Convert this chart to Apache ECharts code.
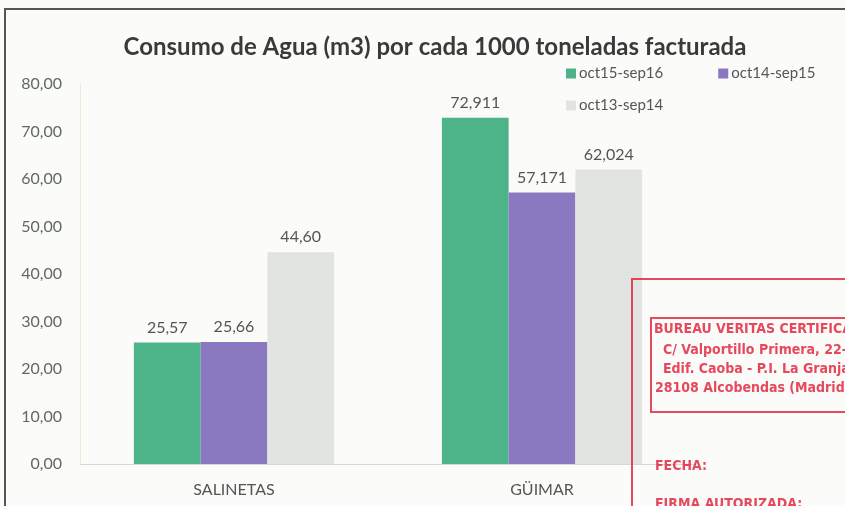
<!DOCTYPE html>
<html>
<head>
<meta charset="utf-8">
<script src="https://cdn.jsdelivr.net/npm/echarts@6/dist/echarts.min.js"></script>
<style>
  html, body { margin: 0; padding: 0; background: #fbfbf9; }
  #chart { width: 845px; height: 506px; }
</style>
</head>
<body>
<div id="chart"></div>
<script>
// categories and series
const categories = ['SALINETAS', 'GÜIMAR'];
const seriesNames = ['oct15-sep16', 'oct14-sep15', 'oct13-sep14'];
const oct15sep16 = [25.57, 72.911];
const oct14sep15 = [25.66, 57.171];
const oct13sep14 = [44.60, 62.024];
// decimals shown in each category's labels
const labelDecimals = [2, 3];
const yTicks = { min: 0, max: 80, interval: 10 };

const colors = ['#4db48a', '#8a78c0', '#e1e4e1'];
const font = 'Lato, "Open Sans", sans-serif';
const stampRed = '#e3344a';

const chart = echarts.init(document.getElementById('chart'));

function fmtComma(v, digits) {
  return v.toFixed(digits).replace('.', ',');
}

function makeSeries(name, data, idx) {
  return {
    name,
    type: 'bar',
    data,
    barGap: 0,
    barCategoryGap: '35%',
    itemStyle: { color: colors[idx] },
    label: {
      show: true,
      position: 'top',
      distance: 7,
      color: '#555',
      fontSize: 16,
      fontFamily: font,
      formatter: (p) => fmtComma(p.value, labelDecimals[p.dataIndex]),
    },
  };
}

// rough copy of the red certification stamp over the scan
const stampText = (text, x, y, size) => ({
  type: 'text',
  x,
  y,
  style: {
    text,
    fill: stampRed,
    font: `bold ${size}px "Liberation Sans Narrow", "DejaVu Sans Condensed", sans-serif`,
    opacity: 0.9,
  },
  z: 20,
});

const option = {
  backgroundColor: '#fbfbf9',
  animation: false,
  textStyle: { fontFamily: font },
  title: {
    text: 'Consumo de Agua (m3) por cada 1000 toneladas facturada',
    left: 430,
    textAlign: 'center',
    top: 30,
    textStyle: { fontSize: 24, fontWeight: 'bold', color: '#3a3a3a', fontFamily: font },
  },
  legend: [
    {
      data: seriesNames.slice(0, 2),
      left: 561,
      top: 61,
      itemGap: 55,
      itemWidth: 10,
      itemHeight: 10,
      icon: 'rect',
      textStyle: { fontSize: 15, color: '#555', fontFamily: font, padding: [0, 0, 0, -2] },
    },
    {
      data: seriesNames.slice(2),
      left: 561,
      top: 93,
      itemWidth: 10,
      itemHeight: 10,
      icon: 'rect',
      textStyle: { fontSize: 15, color: '#555', fontFamily: font, padding: [0, 0, 0, -2] },
    },
  ],
  grid: { left: 80, right: 149, top: 84, bottom: 42, containLabel: false },
  xAxis: {
    type: 'category',
    data: categories,
    axisTick: { show: false },
    axisLine: { lineStyle: { color: '#d8d8d4', width: 1 } },
    axisLabel: { color: '#555', fontSize: 16, margin: 18, fontFamily: font },
  },
  yAxis: {
    type: 'value',
    min: yTicks.min,
    max: yTicks.max,
    interval: yTicks.interval,
    axisLine: { show: true, lineStyle: { color: '#ecebd8' } },
    splitLine: { show: false },
    axisLabel: {
      color: '#5e6a62',
      fontSize: 16,
      margin: 18,
      fontFamily: font,
      formatter: (v) => fmtComma(v, 2),
    },
  },
  series: [
    makeSeries(seriesNames[0], oct15sep16, 0),
    makeSeries(seriesNames[1], oct14sep15, 1),
    makeSeries(seriesNames[2], oct13sep14, 2),
  ],
  graphic: [
    // chart frame from the scanned page
    {
      type: 'rect',
      shape: { x: 5, y: 9, width: 900, height: 600 },
      style: { fill: null, stroke: '#555', lineWidth: 2 },
      z: 10,
      silent: true,
    },
    // stamp outlines
    {
      type: 'rect',
      shape: { x: 632, y: 279, width: 300, height: 300 },
      style: { fill: null, stroke: stampRed, lineWidth: 2, opacity: 0.9 },
      z: 20,
    },
    {
      type: 'rect',
      shape: { x: 651, y: 318, width: 250, height: 94 },
      style: { fill: null, stroke: stampRed, lineWidth: 2, opacity: 0.9 },
      z: 20,
    },
    stampText('BUREAU VERITAS CERTIFICATION', 654, 322, 14),
    stampText('C/ Valportillo Primera, 22-24', 663, 343, 14),
    stampText('Edif. Caoba - P.I. La Granja', 663, 362, 14),
    stampText('28108 Alcobendas (Madrid)', 655, 381, 14),
    stampText('FECHA:', 655, 459, 14),
    stampText('FIRMA AUTORIZADA:', 655, 497, 14),
  ],
};

chart.setOption(option);
</script>
</body>
</html>
